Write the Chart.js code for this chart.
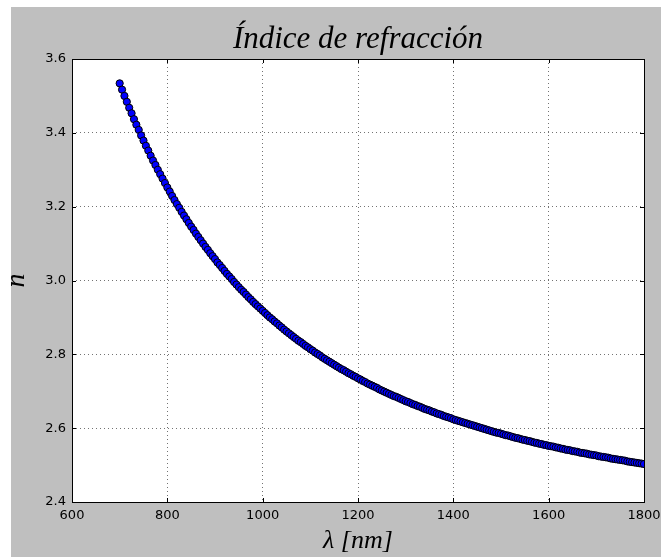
<!DOCTYPE html>
<html>
<head>
<meta charset="utf-8">
<script src="https://cdn.jsdelivr.net/npm/chart.js@4/dist/chart.umd.min.js"></script>
<style>
  html, body { margin: 0; padding: 0; background: #fff; }
  #bg { position: absolute; left: 11px; top: 7px; width: 650px; height: 550px; background: #bfbfbf; }
  #wrap { position: absolute; left: 0; top: 0; width: 661px; height: 557px; }
</style>
</head>
<body>
<div id="bg"></div>
<div id="wrap"><canvas id="chart" width="661" height="557"></canvas></div>
<script>
// longitud de onda (nm), paso de 5 nm
const lambdaStart = 700;
const lambdaStep = 5;
// indice de refraccion
const nValues = [
  3.534, 3.517, 3.500, 3.484, 3.468, 3.453, 3.437, 3.422, 3.408, 3.393,
  3.379, 3.365, 3.352, 3.338, 3.325, 3.313, 3.300, 3.288, 3.276, 3.264,
  3.252, 3.241, 3.229, 3.218, 3.207, 3.197, 3.186, 3.176, 3.166, 3.156,
  3.146, 3.137, 3.127, 3.118, 3.109, 3.100, 3.091, 3.083, 3.074, 3.066,
  3.058, 3.049, 3.042, 3.034, 3.026, 3.018, 3.011, 3.004, 2.996, 2.989,
  2.982, 2.975, 2.969, 2.962, 2.955, 2.949, 2.942, 2.936, 2.930, 2.924,
  2.918, 2.912, 2.906, 2.900, 2.895, 2.889, 2.884, 2.878, 2.873, 2.867,
  2.862, 2.857, 2.852, 2.847, 2.842, 2.837, 2.833, 2.828, 2.823, 2.819,
  2.814, 2.810, 2.805, 2.801, 2.797, 2.792, 2.788, 2.784, 2.780, 2.776,
  2.772, 2.768, 2.764, 2.760, 2.757, 2.753, 2.749, 2.746, 2.742, 2.739,
  2.735, 2.732, 2.728, 2.725, 2.721, 2.718, 2.715, 2.712, 2.709, 2.705,
  2.702, 2.699, 2.696, 2.693, 2.690, 2.687, 2.685, 2.682, 2.679, 2.676,
  2.673, 2.671, 2.668, 2.665, 2.663, 2.660, 2.658, 2.655, 2.652, 2.650,
  2.648, 2.645, 2.643, 2.640, 2.638, 2.636, 2.633, 2.631, 2.629, 2.627,
  2.624, 2.622, 2.620, 2.618, 2.616, 2.614, 2.612, 2.610, 2.608, 2.606,
  2.604, 2.602, 2.600, 2.598, 2.596, 2.594, 2.592, 2.590, 2.588, 2.587,
  2.585, 2.583, 2.581, 2.580, 2.578, 2.576, 2.574, 2.573, 2.571, 2.569,
  2.568, 2.566, 2.565, 2.563, 2.561, 2.560, 2.558, 2.557, 2.555, 2.554,
  2.552, 2.551, 2.550, 2.548, 2.547, 2.545, 2.544, 2.542, 2.541, 2.540,
  2.538, 2.537, 2.536, 2.534, 2.533, 2.532, 2.531, 2.529, 2.528, 2.527,
  2.526, 2.524, 2.523, 2.522, 2.521, 2.520, 2.518, 2.517, 2.516, 2.515,
  2.514, 2.513, 2.512, 2.510, 2.509, 2.508, 2.507, 2.506, 2.505, 2.504,
  2.503
];
const xTicks = [600, 800, 1000, 1200, 1400, 1600, 1800];
const yTicks = [2.4, 2.6, 2.8, 3.0, 3.2, 3.4, 3.6];

const points = nValues.map((n, i) => ({ x: lambdaStart + i * lambdaStep, y: n }));

// marco negro y marcas hacia dentro (estilo clasico)
const frameTicks = {
  id: 'frameTicks',
  afterDraw(chart) {
    const { ctx, chartArea: a, scales } = chart;
    ctx.save();
    ctx.strokeStyle = '#000';
    ctx.lineWidth = 1;
    const len = 4;
    ctx.beginPath();
    xTicks.forEach(v => {
      const px = Math.round(scales.x.getPixelForValue(v)) + 0.5;
      ctx.moveTo(px, a.bottom); ctx.lineTo(px, a.bottom - len);
      ctx.moveTo(px, a.top); ctx.lineTo(px, a.top + len);
    });
    yTicks.forEach(v => {
      const py = Math.round(scales.y.getPixelForValue(v)) + 0.5;
      ctx.moveTo(a.left, py); ctx.lineTo(a.left + len, py);
      ctx.moveTo(a.right, py); ctx.lineTo(a.right - len, py);
    });
    ctx.stroke();
    ctx.strokeRect(Math.round(a.left) + 0.5, Math.round(a.top) + 0.5,
      Math.round(a.right - a.left), Math.round(a.bottom - a.top));
    ctx.restore();
  }
};

const plotBg = {
  id: 'plotBg',
  beforeDraw(chart) {
    const { ctx, chartArea: a } = chart;
    ctx.save();
    ctx.fillStyle = '#fff';
    ctx.fillRect(a.left, a.top, a.right - a.left, a.bottom - a.top);
    ctx.restore();
  }
};

const ctx = document.getElementById('chart').getContext('2d');
new Chart(ctx, {
  type: 'scatter',
  data: {
    datasets: [{
      data: points,
      backgroundColor: '#0000ff',
      borderColor: '#000000',
      borderWidth: 1,
      pointRadius: 3.6,
      showLine: false
    }]
  },
  plugins: [plotBg, frameTicks],
  options: {
    responsive: false,
    animation: false,
    events: [],
    layout: { padding: { left: 0, right: 17, top: 0, bottom: 0 } },
    plugins: {
      legend: { display: false },
      tooltip: { enabled: false },
      title: {
        display: true,
        fullSize: false,
        text: 'Índice de refracción',
        color: '#000',
        font: { family: 'Liberation Serif', style: 'italic', weight: 'normal', size: 31, lineHeight: 1.2 },
        padding: { top: 21, bottom: 0.8 }
      }
    },
    scales: {
      x: {
        type: 'linear',
        min: 600,
        max: 1800,
        afterBuildTicks: s => { s.ticks = xTicks.map(v => ({ value: v })); },
        afterFit: s => { s.height = 55; s.paddingLeft = 0; s.paddingRight = 0; },
        ticks: {
          color: '#000',
          font: { family: 'DejaVu Sans', size: 13 },
          padding: 6,
          maxRotation: 0,
          callback: v => String(v)
        },
        grid: { color: 'rgba(0,0,0,0.55)', lineWidth: 1, drawTicks: false },
        border: { display: false, dash: [1, 3] },
        title: {
          display: true,
          text: 'λ [nm]',
          color: '#000',
          font: { family: 'Liberation Serif', style: 'italic', size: 26 },
          padding: { top: 0, bottom: 0 }
        }
      },
      y: {
        type: 'linear',
        min: 2.4,
        max: 3.6,
        afterBuildTicks: s => { s.ticks = yTicks.map(v => ({ value: v })); },
        afterFit: s => { s.width = 72; s.paddingTop = 0; s.paddingBottom = 0; },
        ticks: {
          color: '#000',
          font: { family: 'DejaVu Sans', size: 13 },
          padding: 6,
          callback: v => v.toFixed(1)
        },
        grid: { color: 'rgba(0,0,0,0.55)', lineWidth: 1, drawTicks: false },
        border: { display: false, dash: [1, 3] },
        title: {
          display: true,
          text: 'n',
          color: '#000',
          font: { family: 'Liberation Serif', style: 'italic', size: 28 },
          padding: { top: 0, bottom: 0 }
        }
      }
    }
  }
});
</script>
</body>
</html>
